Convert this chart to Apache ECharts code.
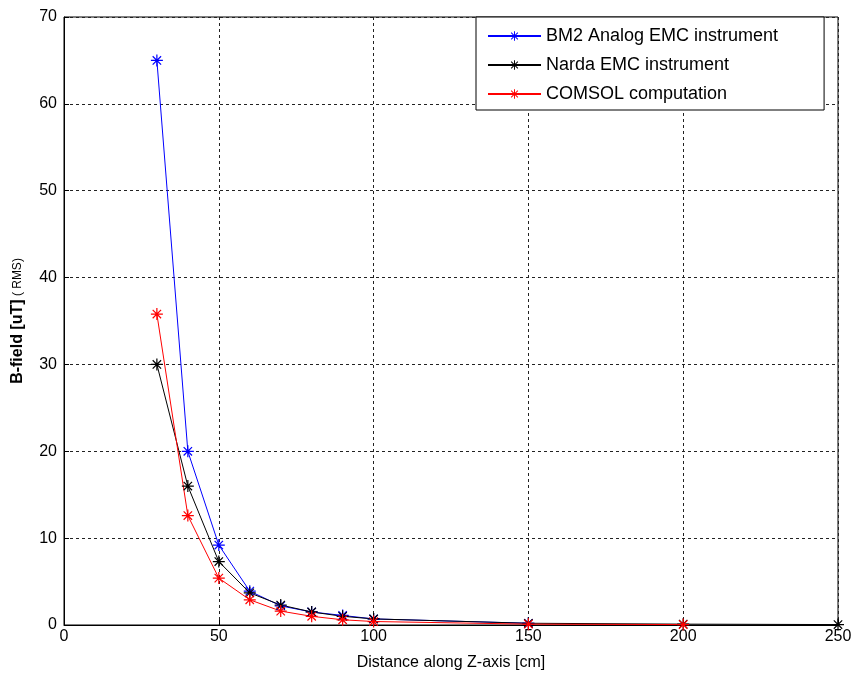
<!DOCTYPE html>
<html>
<head>
<meta charset="utf-8">
<script src="https://cdn.jsdelivr.net/npm/echarts@6/dist/echarts.min.js"></script>
<style>
  html, body { margin: 0; padding: 0; background: #fff; }
  #main { width: 856px; height: 676px; }
</style>
</head>
<body>
<div id="main"></div>
<script>
// 数据
var bm2X = [30, 40, 50, 60, 70, 80, 90, 100, 150];
var bm2Y = [65.0, 20.0, 9.2, 3.9, 2.2, 1.5, 1.1, 0.7, 0.2];
var nardaX = [30, 40, 50, 60, 70, 80, 90, 100, 150, 200, 250];
var nardaY = [30.0, 16.0, 7.3, 3.7, 2.3, 1.5, 1.0, 0.7, 0.2, 0.1, 0.05];
var comsolX = [30, 40, 50, 60, 70, 80, 90, 100, 150, 200];
var comsolY = [35.8, 12.6, 5.4, 2.9, 1.6, 1.0, 0.6, 0.4, 0.1, 0.05];
var seriesNames = ['BM2 Analog EMC instrument', 'Narda EMC instrument', 'COMSOL computation'];

function pairs(xs, ys) {
    return xs.map(function (x, i) { return [x, ys[i]]; });
}

// 星号标记
var star = 'path://M-1,-10 L1,-10 L1,10 L-1,10 Z M-10,-1 L10,-1 L10,1 L-10,1 Z ' +
    'M-7.7,-6.3 L-6.3,-7.7 L7.7,6.3 L6.3,7.7 Z M6.3,-7.7 L7.7,-6.3 L-6.3,7.7 L-7.7,6.3 Z';

function mk(name, data, color) {
    return {
        name: name,
        type: 'line',
        data: data,
        symbol: star,
        symbolSize: 12,
        showAllSymbol: true,
        clip: false,
        color: color,
        lineStyle: {color: color, width: 1},
        itemStyle: {color: color},
        emphasis: {disabled: true}
    };
}

var myChart = echarts.init(document.getElementById('main'));

var gridLine = {show: true, lineStyle: {color: '#222', type: [3, 3], width: 1}};

option = {
    animation: false,
    textStyle: {fontFamily: 'Liberation Sans, Arial, sans-serif'},
    grid: {
        left: 64, right: 18, top: 17, bottom: 51,
        show: true, borderColor: '#000', borderWidth: 1
    },
    legend: {
        orient: 'vertical',
        left: 476, top: 17,
        width: 348,
        padding: [10, 46, 7, 11],
        backgroundColor: '#fff',
        borderColor: '#000',
        borderWidth: 1,
        itemWidth: 53,
        itemHeight: 12,
        itemGap: 11,
        textStyle: {fontSize: 18, color: '#000'},
        data: seriesNames
    },
    xAxis: {
        type: 'value',
        min: 0, max: 250, interval: 50,
        name: 'Distance along Z-axis [cm]',
        nameLocation: 'middle',
        nameGap: 30,
        nameTextStyle: {fontSize: 16, color: '#000'},
        axisLine: {show: true, lineStyle: {color: '#000'}},
        axisTick: {show: true, inside: true, length: 5, lineStyle: {color: '#000'}},
        axisLabel: {fontSize: 16, color: '#000', margin: 4},
        splitLine: gridLine
    },
    yAxis: {
        type: 'value',
        min: 0, max: 70, interval: 10,
        name: '{b|B-field [uT]} {s|( RMS)}',
        nameLocation: 'middle',
        nameGap: 38,
        nameTextStyle: {
            rich: {
                b: {fontSize: 16, fontWeight: 'bold', color: '#000'},
                s: {fontSize: 12, color: '#000'}
            }
        },
        axisLine: {show: true, lineStyle: {color: '#000'}},
        axisTick: {show: true, inside: true, length: 5, lineStyle: {color: '#000'}},
        axisLabel: {fontSize: 16, color: '#000', margin: 7},
        splitLine: gridLine
    },
    series: [
        mk(seriesNames[0], pairs(bm2X, bm2Y), '#0000ff'),
        mk(seriesNames[1], pairs(nardaX, nardaY), '#000000'),
        mk(seriesNames[2], pairs(comsolX, comsolY), '#ff0000')
    ]
};

myChart.setOption(option);
</script>
</body>
</html>
